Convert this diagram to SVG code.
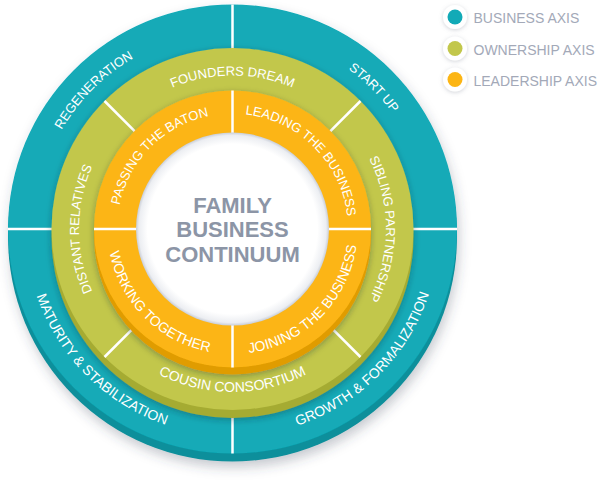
<svg xmlns="http://www.w3.org/2000/svg" xmlns:xlink="http://www.w3.org/1999/xlink" width="600" height="486" viewBox="0 0 600 486">
  <style>
    .lbl { font-family: "Liberation Sans", Arial, sans-serif; font-size: 13px; fill: #ffffff; }
    .lbl2 { font-family: "Liberation Sans", Arial, sans-serif; font-size: 14px; fill: #ffffff; }
    .title { font-family: "Liberation Sans", Arial, sans-serif; font-size: 22px; font-weight: bold; fill: #8c95a6; text-anchor: middle; }
    .leg { font-family: "Liberation Sans", Arial, sans-serif; font-size: 14px; fill: #a3a9b8; }
    .div { stroke: #ffffff; stroke-width: 2.5; fill: none; }
  </style>
  <defs>
    <filter id="outerShadow" x="-20%" y="-20%" width="140%" height="140%">
      <feDropShadow dx="2" dy="6" stdDeviation="6" flood-color="#3c4456" flood-opacity="0.28"/>
    </filter>
    <filter id="ringShadow" x="-20%" y="-20%" width="140%" height="140%">
      <feDropShadow dx="0" dy="2" stdDeviation="3" flood-color="#1e2a30" flood-opacity="0.35"/>
    </filter>
    <filter id="dotShadow" x="-50%" y="-50%" width="200%" height="200%">
      <feDropShadow dx="0" dy="1" stdDeviation="2" flood-color="#7a8090" flood-opacity="0.35"/>
    </filter>
    <radialGradient id="hole" cx="0.5" cy="0.5" r="0.5">
      <stop offset="0.88" stop-color="#ffffff"/>
      <stop offset="0.97" stop-color="#eceef2"/>
      <stop offset="1" stop-color="#c9ced7"/>
    </radialGradient>
    <path id="pRegen" d="M70.72,342.28 A197.5,197.5 0 0 1 345.78,67.22"/>
    <path id="pStart" d="M119.22,67.22 A197.5,197.5 0 0 1 394.28,342.28"/>
    <path id="pGrowth" d="M113.77,398.56 A207,207 0 0 0 402.06,110.27"/>
    <path id="pMature" d="M62.94,110.27 A207,207 0 0 0 351.23,398.56"/>
    <path id="pFounders" d="M81.33,202.35 A153.5,153.5 0 0 1 383.67,202.35"/>
    <path id="pSibling" d="M259.15,77.83 A153.5,153.5 0 0 1 259.15,380.17"/>
    <path id="pDistant" d="M205.85,380.17 A153.5,153.5 0 0 1 205.85,77.83"/>
    <path id="pCousin" d="M71.98,257.31 A163,163 0 0 0 393.02,257.31"/>
    <path id="pPassing" d="M137.89,295.25 A115.5,115.5 0 0 1 298.75,134.39"/>
    <path id="pLeading" d="M166.25,134.39 A115.5,115.5 0 0 1 327.11,295.25"/>
    <path id="pJoining" d="M160.80,331.39 A125,125 0 0 0 334.89,157.30"/>
    <path id="pWorking" d="M130.11,157.30 A125,125 0 0 0 304.20,331.39"/>
  </defs>

  <!-- Business axis (outer teal ring) -->
  <g id="ring-business">
    <g filter="url(#outerShadow)">
      <circle cx="232.5" cy="237" r="224.5" fill="#0c8f9b"/>
      <circle cx="232.5" cy="229" r="224.5" fill="#12aab7"/>
    </g>
    <line class="div" x1="232.5" y1="4.5" x2="232.5" y2="60"/>
    <line class="div" x1="232.5" y1="398" x2="232.5" y2="453.5"/>
    <line class="div" x1="8" y1="229" x2="60" y2="229"/>
    <line class="div" x1="405" y1="229" x2="457" y2="229"/>
    <g id="seg-regeneration"><text class="lbl"><textPath href="#pRegen" startOffset="50%" text-anchor="middle">REGENERATION</textPath></text></g>
    <g id="seg-startup"><text class="lbl"><textPath href="#pStart" startOffset="50%" text-anchor="middle">START UP</textPath></text></g>
    <g id="seg-growth"><text class="lbl2"><textPath href="#pGrowth" startOffset="50%" text-anchor="middle">GROWTH &amp; FORMALIZATION</textPath></text></g>
    <g id="seg-maturity"><text class="lbl2"><textPath href="#pMature" startOffset="50%" text-anchor="middle">MATURITY &amp; STABILIZATION</textPath></text></g>
  </g>

  <!-- Ownership axis (green ring) -->
  <g id="ring-ownership">
    <g filter="url(#ringShadow)">
      <circle cx="232.5" cy="237" r="181" fill="#a5ab33"/>
      <circle cx="232.5" cy="229" r="181" fill="#c2c74b"/>
    </g>
    <line class="div" x1="320.89" y1="140.61" x2="360.5" y2="101"/>
    <line class="div" x1="320.89" y1="317.39" x2="360.5" y2="357"/>
    <line class="div" x1="144.11" y1="317.39" x2="104.5" y2="357"/>
    <line class="div" x1="144.11" y1="140.61" x2="104.5" y2="101"/>
    <g id="seg-founders"><text class="lbl"><textPath href="#pFounders" startOffset="50%" text-anchor="middle">FOUNDERS DREAM</textPath></text></g>
    <g id="seg-sibling"><text class="lbl"><textPath href="#pSibling" startOffset="50%" text-anchor="middle">SIBLING PARTNERSHIP</textPath></text></g>
    <g id="seg-cousin"><text class="lbl2"><textPath href="#pCousin" startOffset="50%" text-anchor="middle">COUSIN CONSORTIUM</textPath></text></g>
    <g id="seg-distant"><text class="lbl"><textPath href="#pDistant" startOffset="50%" text-anchor="middle">DISTANT RELATIVES</textPath></text></g>
  </g>

  <!-- Leadership axis (orange ring) -->
  <g id="ring-leadership">
    <g filter="url(#ringShadow)">
      <circle cx="232.5" cy="236" r="138.5" fill="#e09c00"/>
      <circle cx="232.5" cy="229" r="138.5" fill="#fcb514"/>
    </g>
    <line class="div" x1="232.5" y1="90.5" x2="232.5" y2="140"/>
    <line class="div" x1="232.5" y1="318" x2="232.5" y2="367.5"/>
    <line class="div" x1="94" y1="229" x2="140" y2="229"/>
    <line class="div" x1="325" y1="229" x2="371" y2="229"/>
    <g id="seg-passing"><text class="lbl"><textPath href="#pPassing" startOffset="50%" text-anchor="middle">PASSING THE BATON</textPath></text></g>
    <g id="seg-leading"><text class="lbl"><textPath href="#pLeading" startOffset="50%" text-anchor="middle">LEADING THE BUSINESS</textPath></text></g>
    <g id="seg-joining"><text class="lbl2"><textPath href="#pJoining" startOffset="50%" text-anchor="middle">JOINING THE BUSINESS</textPath></text></g>
    <g id="seg-working"><text class="lbl2"><textPath href="#pWorking" startOffset="50%" text-anchor="middle">WORKING TOGETHER</textPath></text></g>
  </g>

  <!-- Center -->
  <g id="center">
    <circle cx="232.5" cy="229" r="96.5" fill="url(#hole)"/>
    <text class="title" x="232.5" y="213">FAMILY</text>
    <text class="title" x="232.5" y="237">BUSINESS</text>
    <text class="title" x="232.5" y="261.5">CONTINUUM</text>
  </g>

  <!-- Legend -->
  <g id="legend">
    <g id="legend-business">
      <circle cx="455" cy="17" r="12" fill="#ffffff" filter="url(#dotShadow)"/>
      <circle cx="455" cy="17" r="7.5" fill="#12aab7"/>
      <text class="leg" x="473.5" y="23">BUSINESS AXIS</text>
    </g>
    <g id="legend-ownership">
      <circle cx="455" cy="48.5" r="12" fill="#ffffff" filter="url(#dotShadow)"/>
      <circle cx="455" cy="48.5" r="7.5" fill="#c2c74b"/>
      <text class="leg" x="473.5" y="54.5">OWNERSHIP AXIS</text>
    </g>
    <g id="legend-leadership">
      <circle cx="455" cy="79.5" r="12" fill="#ffffff" filter="url(#dotShadow)"/>
      <circle cx="455" cy="79.5" r="7.5" fill="#fcb514"/>
      <text class="leg" x="473.5" y="85.5">LEADERSHIP AXIS</text>
    </g>
  </g>
</svg>
